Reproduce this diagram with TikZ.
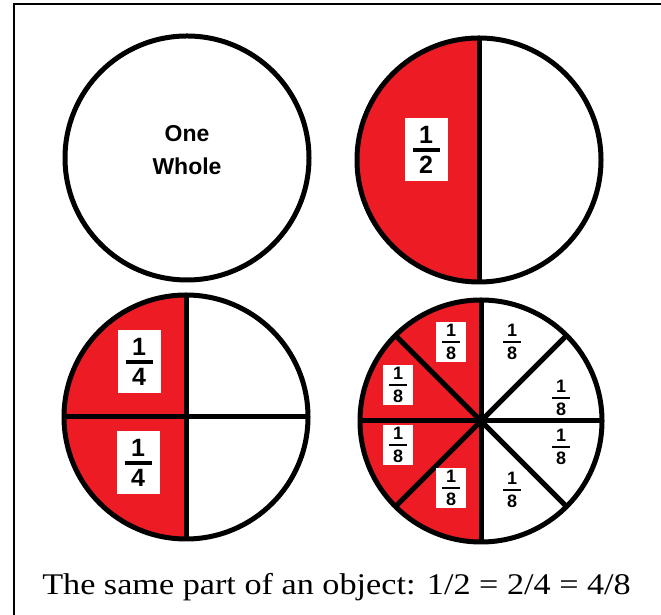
\documentclass[tikz,border=0pt]{standalone}
\usepackage{fontspec}
\setmainfont{Liberation Serif}
\newfontfamily\arialfont{Liberation Sans}
\newfontfamily\captionfont[FakeStretch=1.14]{Liberation Serif}
\usetikzlibrary{positioning}
\definecolor{paintred}{HTML}{ED1C24}
\newcommand{\pfrac}[4]{\shortstack{#1\\[1.5pt]\rule{#3}{#4}\\[1.5pt]#2}}
\tikzset{
  rim/.style={line width=5pt},
  bigfrac/.style={fill=white, inner sep=0pt, minimum width=43, minimum height=63, font=\arialfont\bfseries\fontsize{25}{25}\selectfont},
  smallfrac/.style={fill=white, inner sep=0pt, minimum width=30, minimum height=40, font=\arialfont\bfseries\fontsize{18}{18}\selectfont}}

\begin{document}
\begin{tikzpicture}[x=1pt,y=1pt]
\useasboundingbox (0,0) rectangle (661,615);
\draw [line width=2pt] (13.5,0) -- (13.5,610.5) -- (661,610.5);
	\coordinate (w) at (187,457);
	\coordinate (h) at (479,455);
\coordinate (q) at (186,198);
\coordinate (e) at (481,194);
% one whole
\draw [rim] (w) circle (122);
\node [font=\arialfont\bfseries\fontsize{23}{33}\selectfont, align=center] (whole) at ([yshift=8]w) {One\\Whole};
% halves
\fill [paintred] ([yshift=122]h) arc (90:270:122) -- cycle;
\draw [rim] ([yshift=122]h) -- ([yshift=-122]h);
\draw [rim] (h) circle (122);
\node [bigfrac] (half) at ([xshift=-53,yshift=10]h) {\pfrac{1}{2}{27pt}{3.5pt}};
% quarters
\fill [paintred] ([yshift=122]q) arc (90:270:122) -- cycle;
\draw [rim] ([yshift=122]q) -- ([yshift=-122]q);
\draw [rim] ([xshift=-122]q) -- ([xshift=122]q);
\draw [rim] (q) circle (122);
\node [bigfrac] (qa) at ([xshift=-47,yshift=55]q) {\pfrac{1}{4}{27pt}{3.5pt}};
\node [bigfrac] (qb) at ([xshift=-48,yshift=-46]q) {\pfrac{1}{4}{27pt}{3.5pt}};
% eighths
\fill [paintred] ([yshift=121]e) arc (90:270:121) -- cycle;
\foreach \a in {0,45,...,315}
	\draw [rim] (e) -- ++(\a:121);
\draw [rim] (e) circle (121);
\node [smallfrac] (ea) at ([xshift=-30,yshift=79]e) {\pfrac{1}{8}{18pt}{2pt}};
\node [smallfrac] (eb) at ([xshift=-83,yshift=36]e) {\pfrac{1}{8}{18pt}{2pt}};
\node [smallfrac] (ec) at ([xshift=-83,yshift=-24]e) {\pfrac{1}{8}{18pt}{2pt}};
\node [smallfrac] (ed) at ([xshift=-30,yshift=-67]e) {\pfrac{1}{8}{18pt}{2pt}};
\node [smallfrac] (ee) at ([xshift=31,yshift=79]e) {\pfrac{1}{8}{18pt}{2pt}};
\node [smallfrac] (ef) at ([xshift=80,yshift=23]e) {\pfrac{1}{8}{18pt}{2pt}};
\node [smallfrac] (eg) at ([xshift=80,yshift=-26]e) {\pfrac{1}{8}{18pt}{2pt}};
\node [smallfrac] (eh) at ([xshift=31,yshift=-69]e) {\pfrac{1}{8}{18pt}{2pt}};
\node [font=\captionfont\fontsize{30}{30}\selectfont, anchor=base] (caption) at (336.5,20) {The same part of an object: 1/2 = 2/4 = 4/8};
\end{tikzpicture}
\end{document}
